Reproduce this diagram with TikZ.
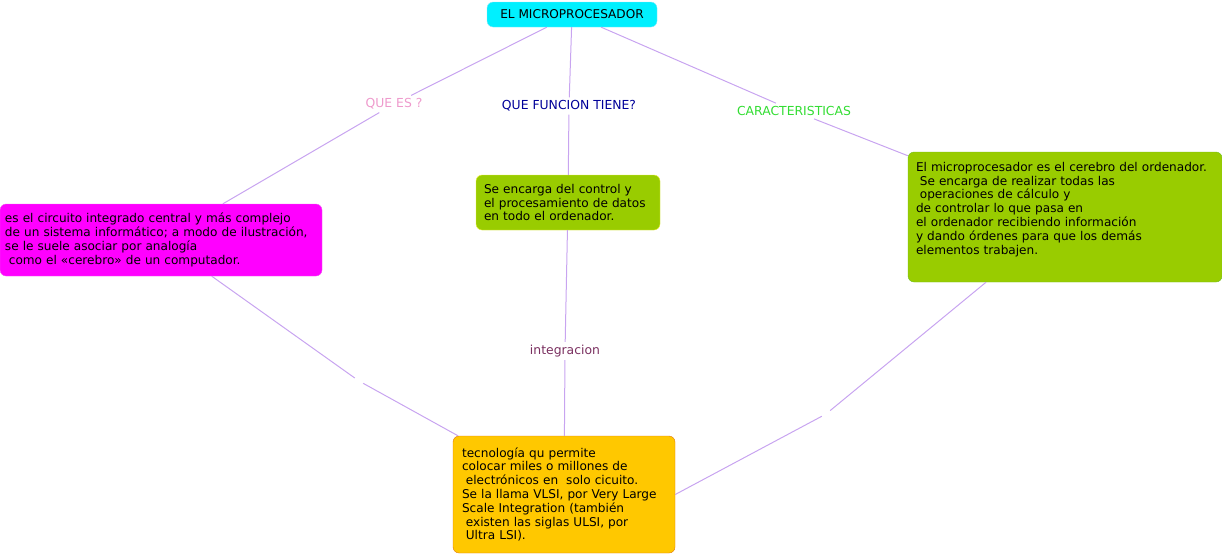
\documentclass[tikz,border=0pt]{standalone}
\usepackage{fontspec}
\setmainfont{DejaVu Sans}
\usetikzlibrary{positioning}
\hyphenpenalty=10000

\definecolor{lila}{HTML}{C8A4F0}
\definecolor{aqua}{HTML}{00F0FF}
\definecolor{aquaedge}{HTML}{8CE8F8}
\definecolor{fucsia}{HTML}{FF00FF}
\definecolor{fucsiaedge}{HTML}{F060F0}
\definecolor{lima}{HTML}{99CC00}
\definecolor{limaedge}{HTML}{F0F040}
\definecolor{limaedgeb}{HTML}{70C020}
\definecolor{oro}{HTML}{FFC800}
\definecolor{oroedge}{HTML}{E07810}
\definecolor{rosa}{HTML}{EE9ACC}
\definecolor{marino}{HTML}{000099}
\definecolor{verde}{HTML}{33DD33}
\definecolor{vino}{HTML}{7A3060}

\begin{document}
\begin{tikzpicture}[
    x=1pt, y=-1pt,
    box/.style={
        draw,
        rounded corners=6pt,
        align=left,
        inner xsep=8pt,
        font=\fontsize{12.1}{13.8}\selectfont
    },
    tag/.style={font=\fontsize{12.4}{14}\selectfont, inner sep=3pt},
    link/.style={draw=lila, line width=1pt},
    gap/.style={inner sep=0pt, minimum size=8pt}
]
\useasboundingbox (0,0) rectangle (1222,555);

\node[box, fill=aqua, draw=aquaedge, minimum width=170pt, minimum height=25pt, align=center] (micro) at (572,14.5) {EL MICROPROCESADOR};

\node[box, fill=fucsia, draw=fucsiaedge, inner xsep=5pt, text width=312pt, minimum height=72pt] (definicion) at (161,240)
    {es el circuito integrado central y más complejo\\
     de un sistema informático; a modo de ilustración,\\
     se le suele asociar por analogía\\
     \hspace*{.32em}como el «cerebro» de un computador.};
\node[box, fill=lima, draw=limaedge, text width=168pt, minimum height=55pt] (funcion) at (568,202.5)
    {Se encarga del control y\\
     el procesamiento de datos\\
     en todo el ordenador.};
\node[box, fill=lima, draw=limaedgeb, text width=298pt, minimum height=130pt] (caract) at (1065,217)
    {El microprocesador es el cerebro del ordenador.\\
     \hspace*{.32em}Se encarga de realizar todas las\\
     \hspace*{.32em}operaciones de cálculo y\\
     de controlar lo que pasa en\\
     el ordenador recibiendo información\\
     y dando órdenes para que los demás\\
     elementos trabajen.\\
     \strut};
\node[box, fill=oro, draw=oroedge, inner xsep=9pt, text width=204pt, minimum height=117pt] (integ) at (564,494.5)
    {tecnología qu permite\\
     colocar miles o millones de\\
     \hspace*{.32em}electrónicos en \ solo cicuito.\\
     Se la llama VLSI, por Very Large\\
     Scale Integration (también\\
     \hspace*{.32em}existen las siglas ULSI, por\\
     \hspace*{.32em}Ultra LSI).};

% etiquetas de enlace
\node[tag, text=rosa] (queEs) at (394,104) {QUE ES ?};
\node[tag, text=marino] (queFuncion) at (569,106) {QUE FUNCION TIENE?};
\node[tag, text=verde] (caracteristicas) at (794,111) {CARACTERISTICAS};
\node[tag, text=vino] (integracion) at (565,351) {integracion};
\node[gap] (gapIzq) at (359,381) {};
\node[gap] (gapDer) at (826,414) {};

\draw[link] (micro) -- (queEs) -- (definicion);
\draw[link] (micro) -- (queFuncion) -- (funcion);
\draw[link] (micro) -- (caracteristicas) -- (caract);
\draw[link] (funcion) -- (integracion) -- (integ);
\draw[link] (definicion) -- (gapIzq) -- (integ);
\draw[link] (caract) -- (gapDer) -- (integ.east);
\end{tikzpicture}
\end{document}
